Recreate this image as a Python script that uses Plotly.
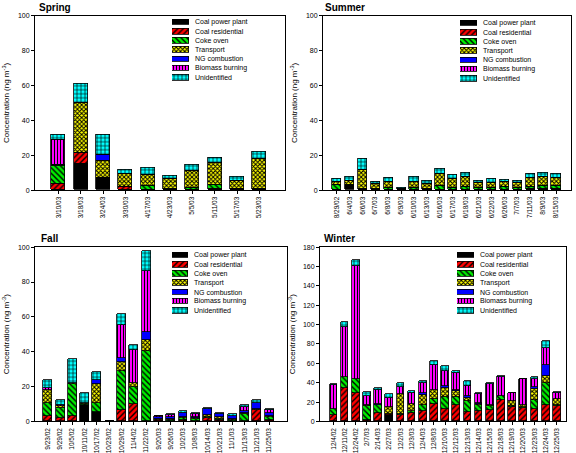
import plotly.graph_objects as go

W, H = 576, 453

sources = ["Coal power plant", "Coal residential", "Coke oven", "Transport",
           "NG combustion", "Biomass burning", "Unidentified"]

# ---------------- Spring ----------------
spring_dates = ["3/10/03", "3/18/03", "3/24/03", "3/30/03", "4/17/03", "4/23/03",
                "5/5/03", "5/11/03", "5/17/03", "5/23/03"]
spring_coal_power = [0, 15.2, 6.8, 0, 0, 0, 0, 0, 0, 0]
spring_coal_res = [3.5, 6.0, 0, 2.0, 0.3, 0, 0, 0.5, 1.0, 0.4]
spring_coke = [10.3, 0, 0, 0, 2.0, 0.5, 1.5, 2.8, 0, 0.4]
spring_transport = [0.7, 29.0, 9.9, 7.5, 6.7, 5.9, 9.6, 12.3, 4.6, 17.2]
spring_ng = [0, 0, 3.6, 0, 0, 0, 0, 0, 0, 0]
spring_biomass = [14.5, 0, 0, 0, 0, 0, 0, 0, 0, 0]
spring_unid = [2.8, 10.5, 11.7, 2.2, 3.6, 1.9, 3.4, 3.0, 2.1, 4.0]

# ---------------- Summer ----------------
summer_dates = ["8/29/02", "6/4/03", "6/6/03", "6/7/03", "6/8/03", "6/9/03", "6/10/03",
                "6/13/03", "6/16/03", "6/17/03", "6/18/03", "6/21/03", "6/22/03",
                "6/26/03", "7/7/03", "7/11/03", "8/9/03", "8/15/03"]
summer_coal_power = [0, 2.5, 0, 0, 0, 0, 0, 0, 0, 0, 0, 0, 0, 0, 0, 0, 0, 0]
summer_coal_res = [0, 0, 0, 0, 0, 0, 0, 0, 0, 0, 0, 0, 0, 0, 0, 0.5, 0.8, 0.8]
summer_coke = [3.0, 0.5, 1.0, 1.0, 1.5, 0.5, 1.5, 1.0, 2.5, 1.5, 2.0, 1.5, 1.5, 1.7, 1.5, 1.5, 1.5, 1.5]
summer_transport = [1.8, 2.2, 10.5, 2.5, 3.0, 0, 3.0, 2.5, 7.0, 4.8, 5.6, 2.5, 2.7, 2.8, 2.6, 5.0, 5.2, 4.8]
summer_ng = [0, 0, 0.3, 0, 0, 0, 0, 0, 0, 0, 0, 0, 0, 0, 0, 0, 0, 0]
summer_biomass = [0] * 18
summer_unid = [1.6, 2.7, 6.1, 1.4, 2.5, 1.0, 3.2, 2.0, 2.5, 2.2, 2.2, 1.5, 2.0, 1.5, 1.0, 2.4, 2.5, 2.5]

# ---------------- Fall ----------------
fall_dates = ["9/23/02", "9/29/02", "10/5/02", "10/11/02", "10/17/02", "10/23/02",
              "10/29/02", "11/4/02", "11/22/02", "9/20/03", "9/26/03", "10/2/03",
              "10/8/03", "10/14/03", "10/21/03", "11/1/03", "11/13/03", "11/21/03", "11/25/03"]
fall_coal_power = [0, 0, 0, 9.2, 5.3, 0, 0, 0, 0, 0, 0, 0, 0, 0, 0, 0, 0, 0, 0]
fall_coal_res = [2.8, 2.0, 3.2, 0, 0, 0, 6.4, 9.8, 0, 0.5, 0, 1.0, 0, 2.0, 0.5, 0, 0, 6.5, 1.0]
fall_coke = [7.5, 5.9, 18.0, 0.8, 5.4, 0, 22.7, 9.9, 40.4, 0.5, 1.0, 0.7, 1.5, 0.5, 1.0, 1.0, 4.0, 0, 1.5]
fall_transport = [7.6, 1.1, 0.8, 0.5, 10.7, 0, 4.7, 2.3, 6.0, 0.3, 0.3, 0.8, 0.3, 1.2, 1.2, 0.3, 0.5, 0.8, 0.5]
fall_ng = [0.3, 0, 0, 0, 2.0, 0, 2.5, 0, 4.6, 1.0, 1.0, 2.5, 0.8, 3.5, 1.4, 2.0, 1.5, 2.9, 1.5]
fall_biomass = [1.0, 0.5, 0, 0, 0, 0, 18.7, 19.0, 35.0, 0.5, 1.2, 0, 1.5, 0, 0, 0, 2.2, 0.5, 2.0]
fall_unid = [4.7, 2.9, 14.0, 5.5, 5.0, 0, 6.5, 3.0, 11.7, 0.3, 0.4, 0.8, 0.8, 0.5, 0.8, 0.6, 1.0, 1.5, 0.8]

# ---------------- Winter ----------------
winter_dates = ["12/4/02", "12/11/02", "12/24/02", "2/7/03", "2/14/03", "2/27/03", "12/2/03",
                "12/3/03", "12/4/03", "12/8/03", "12/10/03", "12/12/03", "12/13/03", "12/14/03",
                "12/15/03", "12/18/03", "12/19/03", "12/20/03", "12/23/03", "12/24/03", "12/25/03"]
winter_coal_power = [0, 0, 0, 0, 0, 6.0, 0, 0, 0, 0, 0, 0, 0, 0, 0, 0, 0, 0, 0, 0, 0]
winter_coal_res = [6.8, 34.4, 28.7, 1.0, 8.4, 1.4, 6.8, 8.4, 11.1, 17.6, 12.8, 16.9, 9.1, 10.5,
                   11.8, 21.6, 14.9, 14.2, 12.8, 16.9, 15.9]
winter_coke = [6.0, 10.9, 15.2, 14.9, 8.5, 0, 0.5, 2.0, 5.8, 5.4, 12.5, 8.4, 12.2, 6.4, 4.1, 4.1,
               0.5, 1.0, 9.2, 22.6, 1.0]
winter_transport = [0, 0, 0, 0.6, 0, 7.1, 20.4, 7.0, 10.1, 9.0, 8.8, 6.1, 3.0, 0.6, 0.6, 0.8,
                    5.9, 1.7, 11.1, 6.8, 6.1]
winter_ng = [0, 0, 0, 0, 0.5, 0, 0, 0, 2.4, 0, 2.4, 1.4, 1.7, 1.1, 0, 0, 0, 0, 2.4, 11.8, 0]
winter_biomass = [24.3, 52.3, 116.9, 9.8, 15.0, 9.5, 8.1, 12.0, 10.1, 25.8, 15.2, 16.8, 10.8, 9.4,
                  22.3, 19.1, 7.4, 26.3, 8.4, 17.2, 6.7]
winter_unid = [1.4, 4.7, 5.7, 4.1, 2.0, 3.7, 3.4, 1.5, 2.0, 4.0, 5.7, 2.7, 4.4, 1.4, 1.1, 0.7,
               0.7, 0.7, 1.7, 7.1, 0.7]

# ---------------- styles ----------------
styles = [
    dict(color="#000000", shape=""),
    dict(color="#FF0000", shape="/", size=4, solidity=0.35),
    dict(color="#00EE00", shape="\\", size=4, solidity=0.35),
    dict(color="#FFFF00", shape="x", size=3, solidity=0.55),
    dict(color="#0000FF", shape=""),
    dict(color="#FF00FF", shape="|", size=3, solidity=0.35),
    dict(color="#00FFFF", shape="+", size=4, solidity=0.3),
]


def marker_for(i):
    s = styles[i]
    m = dict(color=s["color"], line=dict(color="black", width=0.8))
    if s["shape"]:
        m["pattern"] = dict(shape=s["shape"], fgcolor="black", bgcolor=s["color"],
                            size=s["size"], solidity=s["solidity"], fillmode="replace")
    return m


panels = [
    dict(title="Spring", dates=spring_dates,
         series=[spring_coal_power, spring_coal_res, spring_coke, spring_transport,
                 spring_ng, spring_biomass, spring_unid],
         px=(35, 285), py=(12, 189), yr=(0, 100), xr=(-1.05, 10.15), bw=0.63,
         title_xy=(37, 4), ytitle_x=6, leg_x=(172, 189), leg_y=(18.3, 74.3), ydt=20),
    dict(title="Summer", dates=summer_dates,
         series=[summer_coal_power, summer_coal_res, summer_coke, summer_transport,
                 summer_ng, summer_biomass, summer_unid],
         px=(323, 571), py=(12, 189), yr=(0, 100), xr=(-1.06, 18.16), bw=0.72,
         title_xy=(323, 4), ytitle_x=294, leg_x=(460, 477), leg_y=(19.3, 75.3), ydt=20),
    dict(title="Fall", dates=fall_dates,
         series=[fall_coal_power, fall_coal_res, fall_coke, fall_transport,
                 fall_ng, fall_biomass, fall_unid],
         px=(35, 287), py=(247, 424), yr=(0, 100), xr=(-1.04, 19.46), bw=0.73,
         title_xy=(39, 238), ytitle_x=6, leg_x=(172, 188), leg_y=(255.3, 311.3), ydt=20),
    dict(title="Winter", dates=winter_dates,
         series=[winter_coal_power, winter_coal_res, winter_coke, winter_transport,
                 winter_ng, winter_biomass, winter_unid],
         px=(320, 566), py=(247, 424), yr=(0, 180), xr=(-1.2, 20.82), bw=0.69,
         title_xy=(322, 238), ytitle_x=292, leg_x=(457, 474), leg_y=(255.3, 311.3), ydt=20),
]

fig = go.Figure()
annotations = []
layout_axes = {}
FONT = "Liberation Sans, Arial, sans-serif"

for k, p in enumerate(panels):
    ax = k + 1
    xname = "x" if ax == 1 else f"x{ax}"
    yname = "y" if ax == 1 else f"y{ax}"
    n = len(p["dates"])
    cats = list(range(n))
    for i, src in enumerate(sources):
        fig.add_trace(go.Bar(x=cats, y=p["series"][i], name=src, width=p["bw"],
                             marker=marker_for(i), xaxis=xname, yaxis=yname,
                             showlegend=False))
    xd = [p["px"][0] / W, p["px"][1] / W]
    yd = [1 - p["py"][1] / H, 1 - p["py"][0] / H]
    common = dict(showline=True, linecolor="black", linewidth=1, mirror=True,
                  ticks="outside", ticklen=3, tickcolor="black", tickwidth=1,
                  showgrid=False, zeroline=False)
    layout_axes["xaxis" if ax == 1 else f"xaxis{ax}"] = dict(
        domain=xd, range=list(p["xr"]), tickmode="array", tickvals=cats,
        ticktext=p["dates"], tickangle=-90,
        tickfont=dict(size=6.5, family=FONT, color="black"),
        anchor=yname, **common)
    layout_axes["yaxis" if ax == 1 else f"yaxis{ax}"] = dict(
        domain=yd, range=list(p["yr"]), dtick=p["ydt"],
        tickfont=dict(size=7, family=FONT, color="black"),
        anchor=xname, **common)

    # legend swatch axes (hidden)
    lax = ax + 4
    lx, ly = f"x{lax}", f"y{lax}"
    step = (p["leg_y"][1] - p["leg_y"][0]) / 6
    top = p["leg_y"][0] - step / 2
    bot = p["leg_y"][1] + step / 2
    hidden = dict(showticklabels=False, showline=False, showgrid=False, zeroline=False,
                  ticks="", fixedrange=True)
    layout_axes[f"xaxis{lax}"] = dict(domain=[p["leg_x"][0] / W, p["leg_x"][1] / W],
                                      range=[0, 1], anchor=ly, **hidden)
    layout_axes[f"yaxis{lax}"] = dict(domain=[1 - bot / H, 1 - top / H],
                                      range=[6.5, -0.5], anchor=lx, **hidden)
    for i, src in enumerate(sources):
        fig.add_trace(go.Bar(x=[1], y=[i], base=0, orientation="h", width=0.62,
                             marker=marker_for(i), xaxis=lx, yaxis=ly,
                             showlegend=False, hoverinfo="skip"))
        annotations.append(dict(text=src, xref="paper", x=(p["leg_x"][1] + 4) / W,
                                yref=ly, y=i, xanchor="left", yanchor="middle",
                                showarrow=False,
                                font=dict(size=7, family=FONT, color="black")))

    annotations.append(dict(text=f"<b>{p['title']}</b>", xref="paper", yref="paper",
                            x=p["title_xy"][0] / W, y=1 - p["title_xy"][1] / H,
                            xanchor="left", yanchor="middle", showarrow=False,
                            font=dict(size=10, family=FONT, color="black")))
    annotations.append(dict(text="Concentration (ng m<sup>-3</sup>)", xref="paper", yref="paper",
                            x=p["ytitle_x"] / W, y=1 - (p["py"][0] + p["py"][1]) / 2 / H,
                            xanchor="center", yanchor="middle", textangle=-90,
                            showarrow=False,
                            font=dict(size=8, family=FONT, color="black")))

fig.update_layout(width=W, height=H, margin=dict(l=0, r=0, t=0, b=0),
                  paper_bgcolor="white", plot_bgcolor="rgba(0,0,0,0)",
                  barmode="stack", bargap=0, showlegend=False,
                  annotations=annotations, **layout_axes)

fig.write_html("out.html", config={"displayModeBar": False})
